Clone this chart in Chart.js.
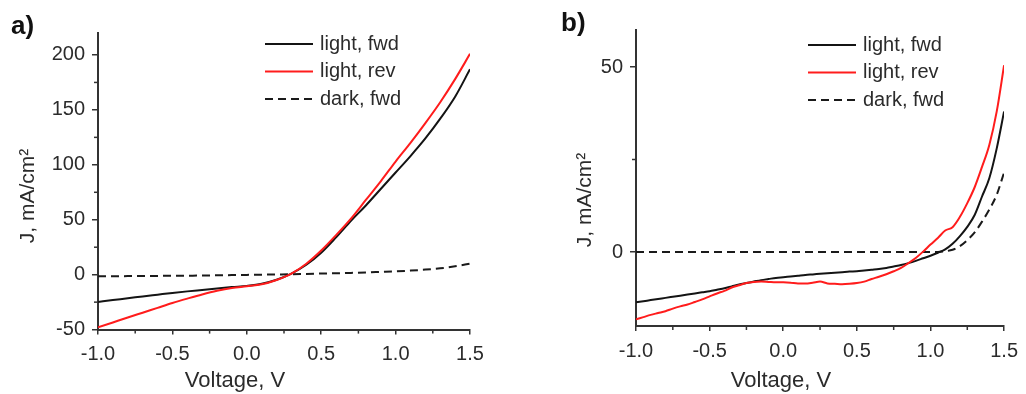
<!DOCTYPE html>
<html>
<head>
<meta charset="utf-8">
<title>J-V curves</title>
<script src="https://cdn.jsdelivr.net/npm/chart.js@4.4.1/dist/chart.umd.min.js"></script>
<style>
  body { margin: 0; background: #fff; }
  #wrap { position: relative; width: 1026px; height: 394px; }
  #panelA { position: absolute; left: 0; top: 0; }
  #panelB { position: absolute; left: 554px; top: 0; }
</style>
</head>
<body>
<div id="wrap">
  <canvas id="panelA" width="513" height="394"></canvas>
  <canvas id="panelB" width="472" height="394"></canvas>
</div>
<script>
// Series names and axis ticks
const seriesLabels = ['light, fwd', 'light, rev', 'dark, fwd'];
const xTicks = [-1.0, -0.5, 0.0, 0.5, 1.0, 1.5];
const yTicksA = [-50, 0, 50, 100, 150, 200];
const yTicksB = [0, 50];

// Panel a: voltage (V) and current density (mA/cm2)
const voltageA = [-1.0, -0.9, -0.8, -0.7, -0.6, -0.5, -0.4, -0.3, -0.2, -0.1, 0.0, 0.1, 0.2,
                  0.3, 0.4, 0.5, 0.6, 0.7, 0.8, 0.9, 1.0, 1.1, 1.2, 1.3, 1.4, 1.5];
const lightFwdA = [-24.8, -23.1, -21.5, -19.8, -18.2, -16.6, -15.2, -13.9, -12.6, -11.3, -10.2, -8.3, -4.6,
                   1, 9, 20, 34, 49, 63, 78, 93, 108, 124, 142, 162, 187];
const lightRevA = [-48, -43.5, -39, -34.6, -30.2, -25.8, -21.8, -18, -14.7, -12.2, -10.6, -8.8, -4.8,
                   1, 10, 22, 36, 51, 68, 85, 103, 120, 138, 157, 178, 201];
const darkFwdA = [-1.5, -1.4, -1.3, -1.2, -1.1, -1.0, -0.9, -0.8, -0.6, -0.4, -0.2, 0, 0.2,
                  0.4, 0.7, 1.0, 1.3, 1.6, 2.0, 2.5, 3.0, 3.7, 4.6, 5.8, 7.6, 10];

// Panel b
const voltageB = [-1.00, -0.95, -0.90, -0.85, -0.80, -0.75, -0.70, -0.65, -0.60, -0.55,
                  -0.50, -0.45, -0.40, -0.35, -0.30, -0.25, -0.20, -0.15, -0.10, -0.05,
                  0.00, 0.05, 0.10, 0.15, 0.20, 0.25, 0.30, 0.35, 0.40, 0.45,
                  0.50, 0.55, 0.60, 0.65, 0.70, 0.75, 0.80, 0.85, 0.90, 0.95,
                  1.00, 1.05, 1.10, 1.15, 1.20, 1.25, 1.30, 1.35, 1.40, 1.45, 1.50];
const lightFwdB = [-13.6, -13.3, -13.0, -12.7, -12.4, -12.1, -11.8, -11.5, -11.2, -10.9,
                   -10.6, -10.2, -9.8, -9.3, -8.8, -8.4, -8.0, -7.6, -7.3, -7.0,
                   -6.8, -6.6, -6.4, -6.2, -6.05, -5.9, -5.75, -5.6, -5.45, -5.3,
                   -5.2, -5.0, -4.8, -4.6, -4.3, -3.9, -3.5, -3.0, -2.4, -1.7,
                   -1.0, -0.2, 0.7, 2.2, 4.3, 6.8, 10.0, 15.0, 20.0, 28.0, 38.0];
const lightRevB = [-18.2, -17.6, -17.0, -16.5, -16.0, -15.3, -14.7, -14.2, -13.5, -12.8,
                   -12.0, -11.2, -10.5, -9.6, -9.0, -8.4, -8.1, -8.0, -8.1, -8.2,
                   -8.2, -8.3, -8.5, -8.5, -8.3, -8.0, -8.5, -8.6, -8.7, -8.6,
                   -8.4, -8.0, -7.3, -6.7, -6.0, -5.2, -4.3, -3.0, -1.6, 0.1,
                   2.0, 3.8, 5.8, 6.7, 9.5, 13.2, 17.5, 23.0, 29.0, 38.0, 50.5];
const darkFwdB = [0, 0, 0, 0, 0, 0, 0, 0, 0, 0,
                  0, 0, 0, 0, 0, 0, 0, 0, 0, 0,
                  0, 0, 0, 0, 0, 0, 0, 0, 0, 0,
                  0, 0, 0, 0, 0, 0, 0, 0, 0, 0,
                  0, 0, 0.2, 0.6, 1.6, 3.2, 5.3, 8.2, 11.5, 15.5, 21.5];

const FONT = '"Liberation Sans", Arial, sans-serif';
const TEXT = '#2b2b2b';
const AXIS = '#333';

function points(xs, ys) {
    return xs.map((x, i) => ({ x: x, y: ys[i] }));
}

function midpoints(values) {
    const out = [];
    for (let i = 0; i < values.length - 1; i++) out.push((values[i] + values[i + 1]) / 2);
    // one more step above the last major tick
    out.push(values[values.length - 1] + (values[1] - values[0]) / 2);
    return out;
}

// Minor ticks, panel letter, rotated y title and the in-plot legend
const panelDecor = {
    id: 'panelDecor',
    afterDraw(chart, args, opts) {
        const { ctx, chartArea, scales } = chart;
        ctx.save();

        ctx.strokeStyle = AXIS;
        ctx.lineWidth = 1.5;
        midpoints(xTicks).forEach(v => {
            if (v < scales.x.min || v > scales.x.max) return;
            const px = scales.x.getPixelForValue(v);
            ctx.beginPath();
            ctx.moveTo(px, chartArea.bottom);
            ctx.lineTo(px, chartArea.bottom + 4);
            ctx.stroke();
        });
        midpoints(opts.yTicks).forEach(v => {
            if (v < scales.y.min || v > scales.y.max) return;
            const py = scales.y.getPixelForValue(v);
            ctx.beginPath();
            ctx.moveTo(chartArea.left, py);
            ctx.lineTo(chartArea.left - 4, py);
            ctx.stroke();
        });

        // panel letter
        ctx.fillStyle = '#111';
        ctx.font = 'bold 26px ' + FONT;
        ctx.textAlign = 'left';
        ctx.textBaseline = 'alphabetic';
        ctx.fillText(opts.letter, opts.letterX, opts.letterY);

        // y axis title
        ctx.save();
        ctx.translate(opts.yTitleX, opts.yTitleY);
        ctx.rotate(-Math.PI / 2);
        ctx.fillStyle = TEXT;
        ctx.font = '21px ' + FONT;
        ctx.textAlign = 'center';
        ctx.textBaseline = 'middle';
        ctx.fillText('J, mA/cm²', 0, 0);
        ctx.restore();

        // legend
        ctx.font = '20px ' + FONT;
        ctx.textAlign = 'left';
        ctx.textBaseline = 'middle';
        chart.data.datasets.forEach((ds, i) => {
            const y = opts.legendY + i * 27.5;
            ctx.strokeStyle = ds.borderColor;
            ctx.lineWidth = 2;
            ctx.setLineDash(ds.borderDash || []);
            ctx.beginPath();
            ctx.moveTo(opts.legendX, y);
            ctx.lineTo(opts.legendX + 48, y);
            ctx.stroke();
            ctx.setLineDash([]);
            ctx.fillStyle = TEXT;
            ctx.fillText(ds.label, opts.legendX + 55, y);
        });

        ctx.restore();
    }
};

function makePanel(canvasId, cfg) {
    const datasets = [
        { label: seriesLabels[0], data: points(cfg.voltage, cfg.fwd), borderColor: '#141414' },
        { label: seriesLabels[1], data: points(cfg.voltage, cfg.rev), borderColor: '#ff1c1c' },
        { label: seriesLabels[2], data: points(cfg.voltage, cfg.dark), borderColor: '#1a1a1a', borderDash: [8, 5] }
    ];
    datasets.forEach(ds => {
        ds.borderWidth = 2;
        ds.pointRadius = 0;
        ds.fill = false;
        ds.cubicInterpolationMode = 'monotone';
    });
    // draw red above black, dashed line first
    datasets[0].order = 1;
    datasets[1].order = 0;
    datasets[2].order = 2;

    return new Chart(document.getElementById(canvasId), {
        type: 'line',
        data: { datasets: datasets },
        options: {
            responsive: false,
            animation: false,
            layout: { padding: { left: 0, right: cfg.padRight, top: cfg.padTop, bottom: 0 } },
            plugins: {
                legend: { display: false },
                tooltip: { enabled: false },
                title: {
                    display: true,
                    position: 'bottom',
                    text: 'Voltage, V',
                    color: TEXT,
                    font: { family: FONT, size: 22, weight: 'normal' },
                    padding: { top: 0, bottom: 0 }
                },
                panelDecor: cfg.decor
            },
            scales: {
                x: {
                    type: 'linear',
                    min: -1.0,
                    max: 1.5,
                    afterBuildTicks: s => { s.ticks = xTicks.map(v => ({ value: v })); },
                    afterFit: s => { s.height = cfg.xHeight; },
                    ticks: {
                        callback: v => v.toFixed(1),
                        color: TEXT,
                        font: { family: FONT, size: 20 },
                        padding: 8,
                        maxRotation: 0,
                        autoSkip: false
                    },
                    grid: { drawOnChartArea: false, tickLength: 5, color: AXIS, lineWidth: 1.5 },
                    border: { display: true, color: AXIS, width: 2 }
                },
                y: {
                    min: cfg.yMin,
                    max: cfg.yMax,
                    afterBuildTicks: s => { s.ticks = cfg.yTicks.map(v => ({ value: v })); },
                    afterFit: s => { s.width = cfg.yWidth; },
                    ticks: {
                        callback: v => String(v),
                        color: TEXT,
                        font: { family: FONT, size: 20 },
                        padding: 7,
                        autoSkip: false
                    },
                    grid: { drawOnChartArea: false, tickLength: 6, color: AXIS, lineWidth: 1.5 },
                    border: { display: true, color: AXIS, width: 2 }
                }
            }
        },
        plugins: [panelDecor]
    });
}

makePanel('panelA', {
    voltage: voltageA, fwd: lightFwdA, rev: lightRevA, dark: darkFwdA,
    yMin: -50, yMax: 220, yTicks: yTicksA,
    yWidth: 98, xHeight: 38, padRight: 43, padTop: 33,
    decor: { yTicks: yTicksA, letter: 'a)', letterX: 11, letterY: 34,
             yTitleX: 28, yTitleY: 196, legendX: 265, legendY: 44 }
});

makePanel('panelB', {
    voltage: voltageB, fwd: lightFwdB, rev: lightRevB, dark: darkFwdB,
    yMin: -20, yMax: 60, yTicks: yTicksB,
    yWidth: 82, xHeight: 41.6, padRight: 18, padTop: 30,
    decor: { yTicks: yTicksB, letter: 'b)', letterX: 7, letterY: 31,
             yTitleX: 31, yTitleY: 200, legendX: 254, legendY: 45 }
});
</script>
</body>
</html>
